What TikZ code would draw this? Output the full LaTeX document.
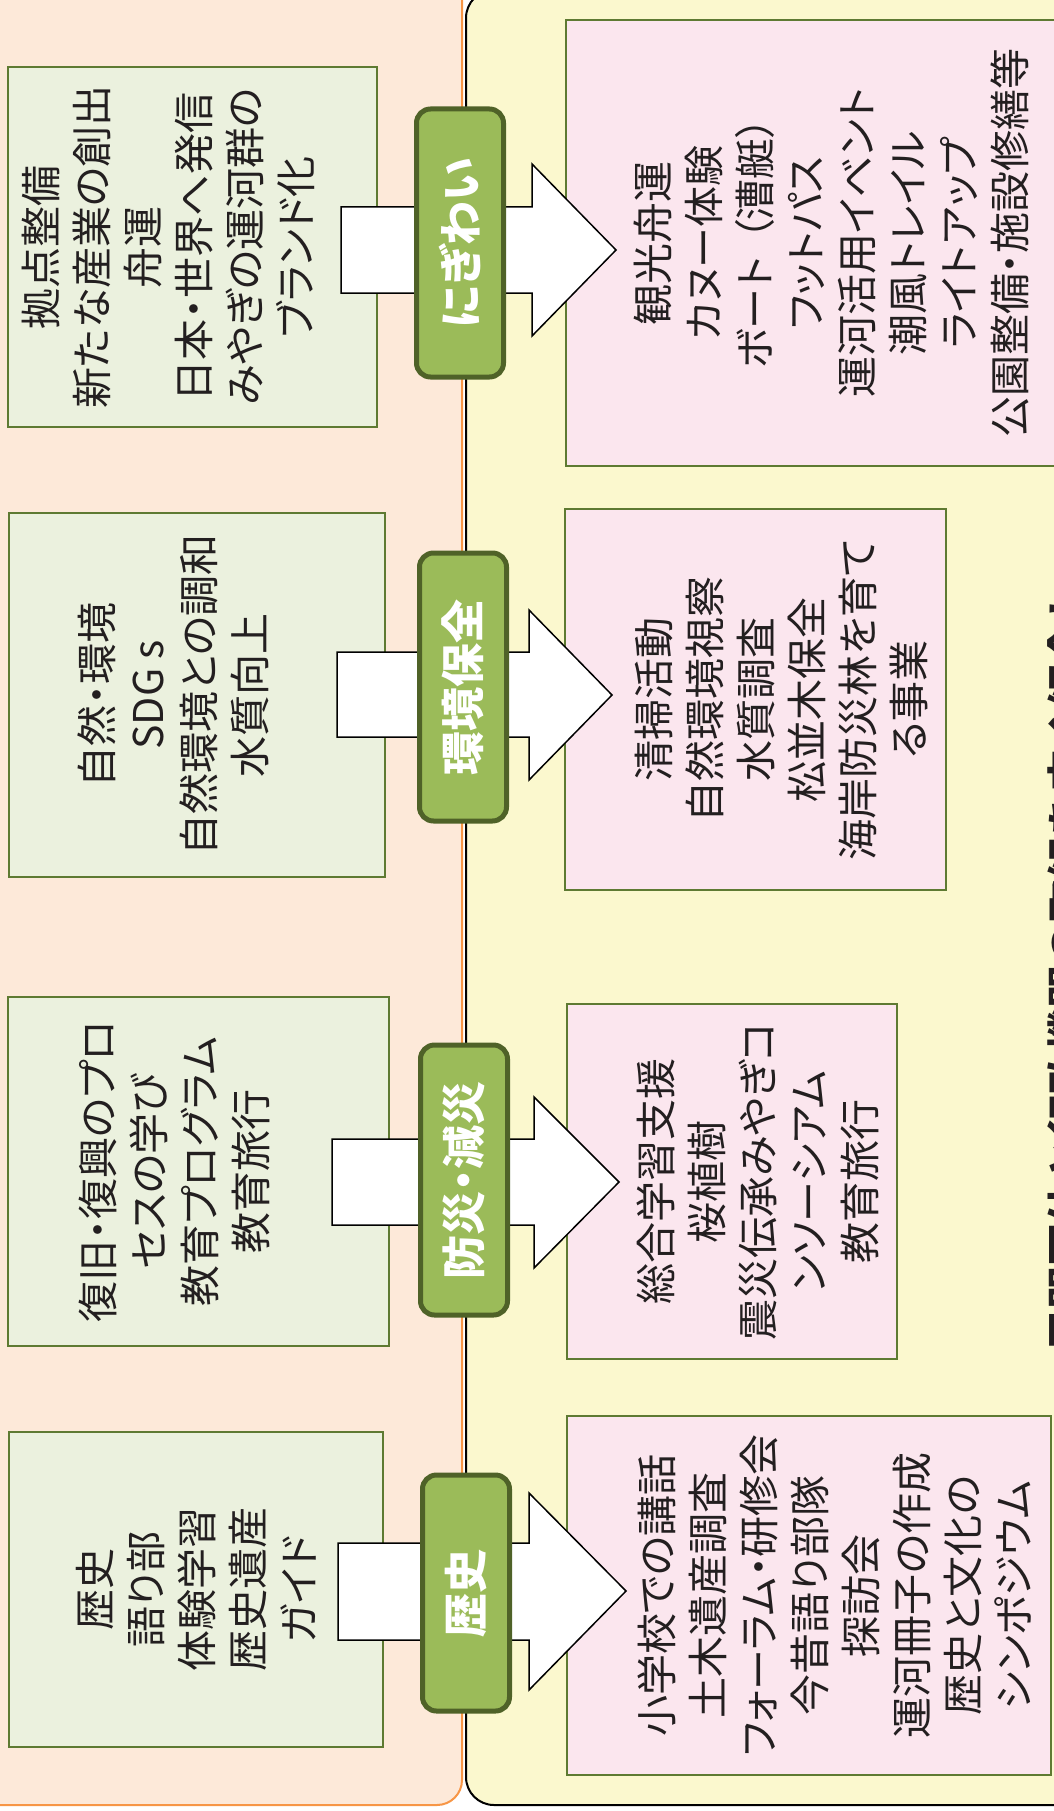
\documentclass[tikz,border=0pt]{standalone}
\usepackage{fontspec}
\newfontfamily\jpfont{Noto Sans CJK JP}[RawFeature=+palt]
\newfontfamily\jpwide{Noto Sans CJK JP}
\definecolor{peach}{HTML}{FDE9D9}
\definecolor{peachline}{HTML}{F79646}
\definecolor{canalyellow}{HTML}{FBF8CE}
\definecolor{greenfill}{HTML}{EBF1DE}
\definecolor{pinkfill}{HTML}{FBE6EE}
\definecolor{boxline}{HTML}{5E7A32}
\definecolor{badgefill}{HTML}{9BBB59}
\definecolor{badgeline}{HTML}{4F6228}
\definecolor{textgray}{HTML}{231F20}

\begin{document}
\begin{tikzpicture}[x=1pt,y=-1pt,
greenbox/.style={draw=boxline,fill=greenfill,line width=2pt,rotate=90,align=center,inner sep=0pt,
  text=textgray,font=\jpfont\fontsize{41}{51}\selectfont},
pinkbox/.style={greenbox,fill=pinkfill},
badge/.style={draw=badgeline,fill=badgefill,line width=5pt,rounded corners=14pt,rotate=90,
  minimum height=87pt,inner sep=0pt,text=white,font=\jpfont\bfseries\fontsize{44}{50}\selectfont},
blockarrow/.style={draw=black,fill=white,line width=1.5pt,line join=miter}]
\useasboundingbox (0,0) rectangle (1053,1811);

\filldraw[fill=peach,draw=peachline,line width=2pt,rounded corners=25pt] (-30,-40) rectangle (462,1805);
\filldraw[fill=canalyellow,draw=black,line width=2pt,rounded corners=28pt] (466,-10) rectangle (1120,1805);

\node[greenbox,minimum width=360pt,minimum height=369pt] (g1) at (192.5,247)
  {拠点整備\\新たな産業の創出\\舟運\\日本・世界へ発信\\みやぎの運河群の\\ブランド化\\\mbox{}};
\node[greenbox,minimum width=364pt,minimum height=376pt] (g2) at (197,695)
  {自然・環境\\SDG s\\自然環境との調和\\水質向上\\\mbox{}};
\node[greenbox,minimum width=349pt,minimum height=381pt] (g3) at (198.5,1171.5)
  {復旧・復興のプロ\\セスの学び\\教育プログラム\\教育旅行\\\mbox{}};
\node[greenbox,minimum width=315pt,minimum height=374pt] (g4) at (196,1589.5)
  {歴史\\語り部\\体験学習\\歴史遺産\\ガイド};

\node[pinkbox,minimum width=446pt,minimum height=530pt] (p1) at (831,243)
  {観光舟運\\カヌー体験\\ボート\hspace{.4em}（漕艇）\\フットパス\\運河活用イベント\\潮風トレイル\\ライトアップ\\公園整備・施設修繕等};
\node[pinkbox,minimum width=381pt,minimum height=381pt] (p2) at (755.5,699.5)
  {\strut\\清掃活動\\自然環境視察\\水質調査\\松並木保全\\海岸防災林を育て\\る事業};
\node[pinkbox,minimum width=355pt,minimum height=330pt] (p3) at (732,1181.5)
  {\strut\\総合学習支援\\桜植樹\\震災伝承みやぎコ\\ンソーシアム\\教育旅行};
\node[pinkbox,minimum width=359pt,minimum height=484pt] (p4) at (809,1595.5)
  {\strut\\小学校での講話\\土木遺産調査\\フォーラム・研修会\\今昔語り部隊\\探訪会\\運河冊子の作成\\歴史と文化の\\シンポジウム};

\draw[blockarrow] (341,207) -- (532,207) -- (532,164) -- (616,250) -- (532,336) -- (532,293) -- (341,293) -- cycle;
\draw[blockarrow] (337,652) -- (529,652) -- (529,610) -- (612,695) -- (529,780) -- (529,737) -- (337,737) -- cycle;
\draw[blockarrow] (332,1139) -- (534,1139) -- (534,1097) -- (619,1182) -- (534,1268) -- (534,1225) -- (332,1225) -- cycle;
\draw[blockarrow] (338,1543) -- (529,1543) -- (529,1493) -- (626,1591) -- (529,1690) -- (529,1640) -- (338,1640) -- cycle;

\node[badge,minimum width=268pt] (b1) at (460,243) {にぎわい};
\node[badge,minimum width=268pt] (b2) at (463,687) {環境保全};
\node[badge,minimum width=270pt] (b3) at (464,1180) {防災・減災};
\node[badge,minimum width=236pt] (b4) at (466,1593) {歴史};

\node[rotate=90,anchor=north west,inner sep=0pt,text=textgray,
  font=\jpwide\bfseries\fontsize{43}{50}\selectfont] (note) at (1047,1353) {民間団体と行政機関の取組を広く紹介し};
\end{tikzpicture}
\end{document}
